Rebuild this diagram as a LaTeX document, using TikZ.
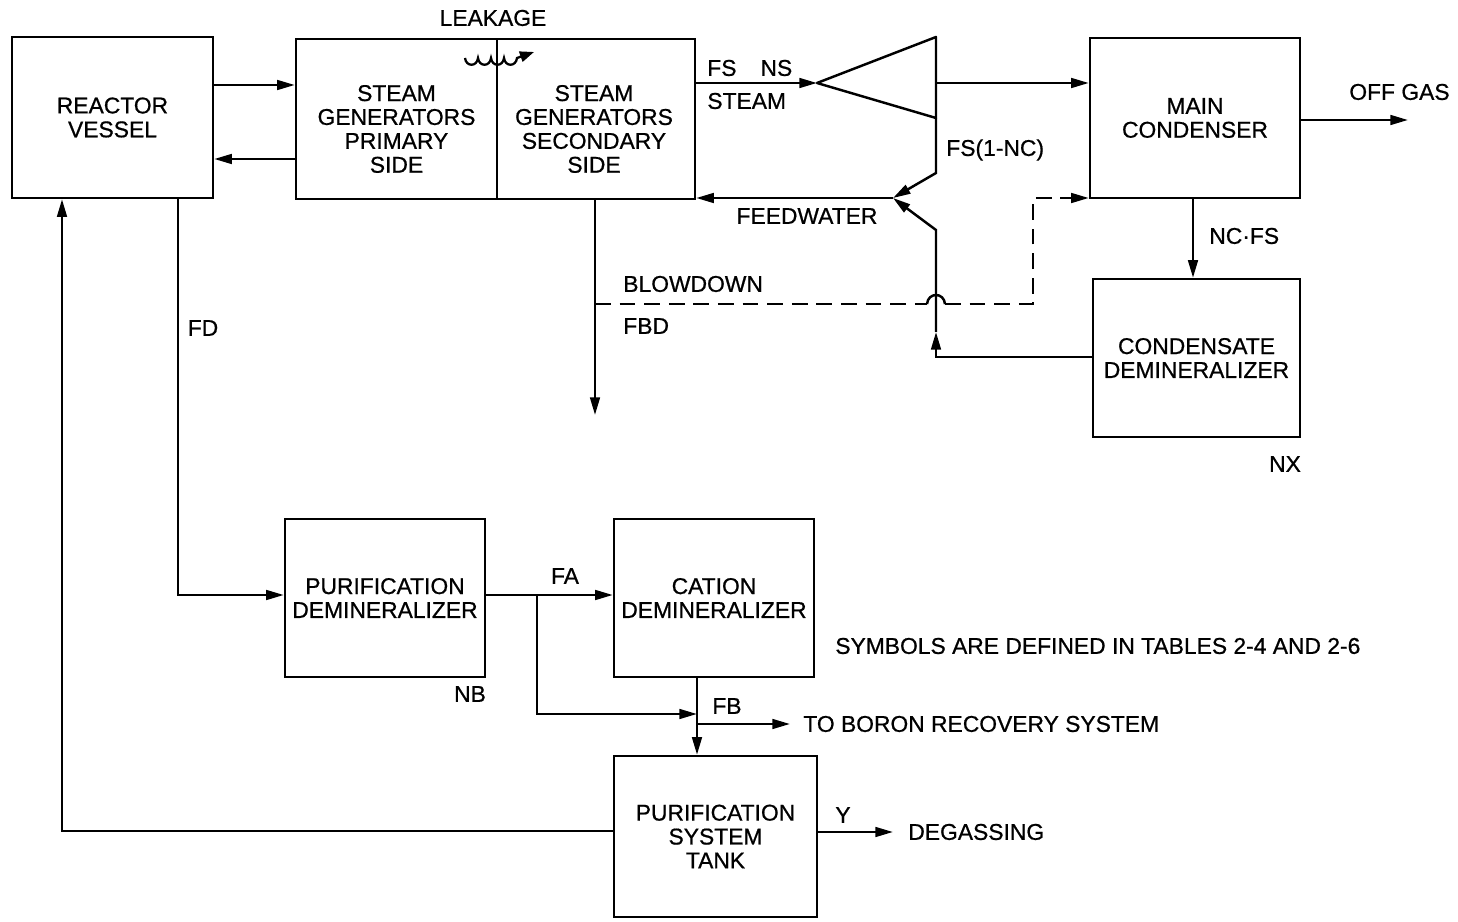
\documentclass[tikz,border=0pt]{standalone}
\usepackage{fontspec}
\setmainfont{Liberation Sans}[AutoFakeBold=0.7]
\usetikzlibrary{arrows.meta}

\begin{document}
\begin{tikzpicture}[
  x=0.02cm, y=-0.02cm,
  font=\fontsize{13}{13.6}\selectfont\bfseries,
  unit/.style={draw, line width=1.4pt, align=center, inner sep=0pt},
  txt/.style={align=center, inner sep=0pt},
  lbl/.style={inner sep=0pt, anchor=west},
  pipe/.style={line width=1.4pt},
  flow/.style={line width=1.4pt, -{Triangle[length=10pt,width=5.5pt]}},
  bdflow/.style={line width=1.4pt, dash pattern=on 9pt off 5pt},
]
\useasboundingbox (0,0) rectangle (1458,922);

% units
\node[unit, minimum width=4.02cm, minimum height=3.22cm] (rv) at (112.5,117.5) {REACTOR\\VESSEL};
\node[unit, minimum width=4.02cm, minimum height=3.2cm] (sgp) at (396.5,119) {};
\node[unit, minimum width=3.96cm, minimum height=3.2cm] (sgs) at (596,119) {};
\node[txt] (sgp-txt) at (396.5,129) {STEAM\\GENERATORS\\PRIMARY\\SIDE};
\node[txt] (sgs-txt) at (594,129) {STEAM\\GENERATORS\\SECONDARY\\SIDE};
\node[unit, minimum width=4.2cm, minimum height=3.2cm] (mc) at (1195,118) {MAIN\\CONDENSER};
\node[unit, minimum width=4.14cm, minimum height=3.16cm] (cd) at (1196.5,358) {CONDENSATE\\DEMINERALIZER};
\node[unit, minimum width=4.0cm, minimum height=3.16cm] (pd) at (385,598) {PURIFICATION\\DEMINERALIZER};
\node[unit, minimum width=4.0cm, minimum height=3.16cm] (ca) at (714,598) {CATION\\DEMINERALIZER};
\node[unit, minimum width=4.06cm, minimum height=3.22cm] (tk) at (715.5,836.5) {PURIFICATION\\SYSTEM\\TANK};

% turbine
\coordinate (tb-tip) at (817,83);
\coordinate (tb-top) at (936,37);
\coordinate (tb-bot) at (936,118);
\draw[pipe, line join=round] (tb-tip) -- (tb-top) -- (tb-bot) -- cycle;

% junctions
\coordinate (jn) at (893,198);
\coordinate (fw-r) at (936,230);
\coordinate (fw-up) at (936,332);
\coordinate (bd) at (595,304);
\coordinate (bd-end) at (595,415);
\coordinate (fa-split) at (537,595);
\coordinate (fb-in) at (697,714);
\coordinate (fb-out) at (790,724);
\coordinate (fb-split) at (697,724);
\coordinate (gas-end) at (1408,120);
\coordinate (dg-end) at (893,832);

% primary loop
\draw[flow] (rv.east |- 0,85) -- (sgp.west |- 0,85);
\draw[flow] (sgp.west |- 0,159) -- (rv.east |- 0,159);

% leakage
\draw[line width=1.3pt, -{Triangle[length=8pt,width=6pt]}] (465,58)
  .. controls (466,67) and (477,67) .. (478,58)
  .. controls (479,67) and (490,67) .. (491,58)
  .. controls (492,67) and (503,67) .. (504,58)
  .. controls (505,67) and (516,67) .. (517,58) -- (534,52);

% steam side
\draw[flow] (sgs.east |- tb-tip) -- (tb-tip);
\draw[flow] (936,83) -- (mc.west |- 0,83);
\draw[flow] (tb-bot) -- (936,173) -- (jn);
\draw[flow] (jn) -- (sgs.east |- jn);
\draw[flow] (cd.west |- 0,357) -| (fw-up);
\draw[flow] (fw-up) -- (fw-r) -- (jn);
\draw[flow] (mc.east |- gas-end) -- (gas-end);
\draw[flow] (mc.south -| 1193,0) -- (cd.north -| 1193,0);

% blowdown
\draw[flow] (sgs.south -| bd) -- (bd-end);
\draw[bdflow] (bd) -- (927,304);
\draw[pipe] (927,304) .. controls (928,292) and (944,292) .. (945,304);
\draw[bdflow, -{Triangle[length=10pt,width=5.5pt]}] (945,304) -- (1033,304) -- (1033,198) -- (mc.west |- 0,198);

% purification
\draw[flow] (rv.south -| 178,0) |- (pd.west |- fa-split);
\draw[flow] (pd.east |- fa-split) -- (ca.west |- fa-split);
\draw[flow] (fa-split) |- (fb-in);
\draw[flow] (ca.south -| fb-in) -- (tk.north -| fb-in);
\draw[flow] (fb-split) -- (fb-out);
\draw[flow] (tk.east |- dg-end) -- (dg-end);
\draw[flow] (tk.west |- 0,831) -| (rv.south -| 62,0);

% labels
\node[txt] (l-leak) at (493,18) {LEAKAGE};
\node[lbl] (l-fsns) at (707,68) {FS\hspace{1.05em}NS};
\node[lbl] (l-steam) at (707,101) {STEAM};
\node[lbl] (l-fs1nc) at (946,150) {FS(1-NC)};
\node[txt] (l-fw) at (807,216) {FEEDWATER};
\node[lbl] (l-bd) at (623,284) {BLOWDOWN};
\node[lbl] (l-fbd) at (623,326) {FBD};
\node[lbl] (l-ncfs) at (1209,236) {NC·FS};
\node[lbl] (l-gas) at (1349,92) {OFF GAS};
\node[txt] (l-nx) at (1285,464) {NX};
\node[txt] (l-fd) at (203,328) {FD};
\node[txt] (l-fa) at (565,576) {FA};
\node[txt] (l-nb) at (470,694) {NB};
\node[txt] (l-fb) at (727,706) {FB};
\node[lbl] (l-boron) at (803,724) {TO BORON RECOVERY SYSTEM};
\node[lbl] (l-sym) at (835,646) {SYMBOLS ARE DEFINED IN TABLES 2-4 AND 2-6};
\node[txt] (l-y) at (843,815) {Y};
\node[lbl] (l-dg) at (908,832) {DEGASSING};

\end{tikzpicture}
\end{document}
